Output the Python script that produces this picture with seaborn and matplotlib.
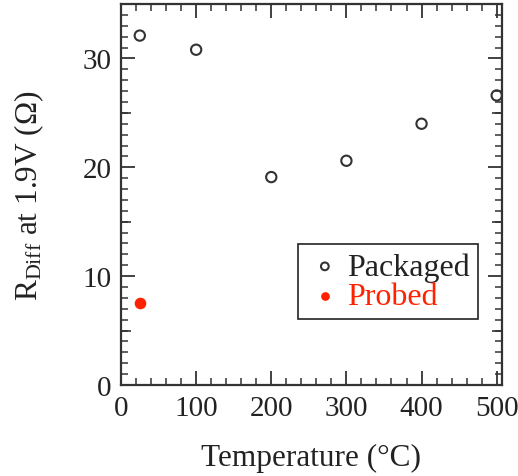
import matplotlib
matplotlib.use("Agg")
import matplotlib.pyplot as plt
import seaborn as sns
import pandas as pd
from matplotlib.ticker import MultipleLocator, NullLocator

packaged_temp = [25, 100, 200, 300, 400, 500]
packaged_r = [32.1, 30.8, 19.1, 20.6, 24.0, 26.6]
probed_temp = [25]
probed_r = [7.5]

sns.set_theme(style="ticks")
plt.rcParams['font.family'] = ['Liberation Serif', 'DejaVu Serif']
plt.rcParams['mathtext.fontset'] = 'custom'
plt.rcParams['mathtext.rm'] = 'Liberation Serif'
plt.rcParams['mathtext.it'] = 'Liberation Serif:italic'

df_pack = pd.DataFrame({"T": packaged_temp, "R": packaged_r})
df_prob = pd.DataFrame({"T": probed_temp, "R": probed_r})

fig = plt.figure(figsize=(5.18, 4.77), dpi=100)
ax = fig.add_axes([0.2336, 0.1908, 0.969 - 0.2336, 0.9895 - 0.1908])

sns.scatterplot(data=df_pack, x="T", y="R", ax=ax, marker="o", s=55,
                facecolors="none", edgecolor="#333333", linewidth=1.5,
                label="Packaged", zorder=3)
sns.scatterplot(data=df_prob, x="T", y="R", ax=ax, marker="o", s=70,
                color="#ff2200", edgecolor="#ff2200", linewidth=0,
                label="Probed", zorder=3)

ax.set_xlim(0, 507)
ax.set_ylim(0, 35)
ax.xaxis.set_major_locator(MultipleLocator(100))
ax.xaxis.set_minor_locator(MultipleLocator(20))
ax.yaxis.set_major_locator(MultipleLocator(10))
ax.yaxis.set_minor_locator(MultipleLocator(1))

ax.tick_params(which="both", direction="in", top=True, right=True,
               color="#333333", labelsize=21, labelcolor="#222222")
ax.tick_params(which="major", length=10, width=1.3, pad=7)
ax.tick_params(which="minor", length=5, width=1.1)
for sp in ax.spines.values():
    sp.set_linewidth(1.6)
    sp.set_color("#333333")

# medium ticks at 5, 15, 25 on both y sides
for side in ("left", "right"):
    sec = ax.secondary_yaxis(side)
    sec.set_yticks([5, 15, 25])
    sec.yaxis.set_minor_locator(NullLocator())
    sec.tick_params(axis="y", which="major", direction="in", length=7.5,
                    width=1.2, color="#333333", labelleft=False, labelright=False)
    sec.spines[side].set_visible(False)

ax.set_xlabel("Temperature (°C)", fontsize=22.5, color="#222222", labelpad=16)
ax.set_ylabel(r"R$_{\rm Diff}$ at 1.9V (Ω)", fontsize=22.5, color="#222222", labelpad=26)

leg = ax.legend(loc="lower right", bbox_to_anchor=(0.937, 0.173), fontsize=23,
                frameon=True, fancybox=False, handletextpad=0.1,
                borderpad=0.25, labelspacing=0.0, handlelength=1.2,
                markerscale=0.75, borderaxespad=0)
leg.get_frame().set_edgecolor("#222222")
leg.get_frame().set_linewidth(1.2)
leg.get_frame().set_alpha(1)
texts = leg.get_texts()
texts[0].set_color("#222222")
texts[1].set_color("#ff2200")

fig.savefig("out.png", dpi=100)
